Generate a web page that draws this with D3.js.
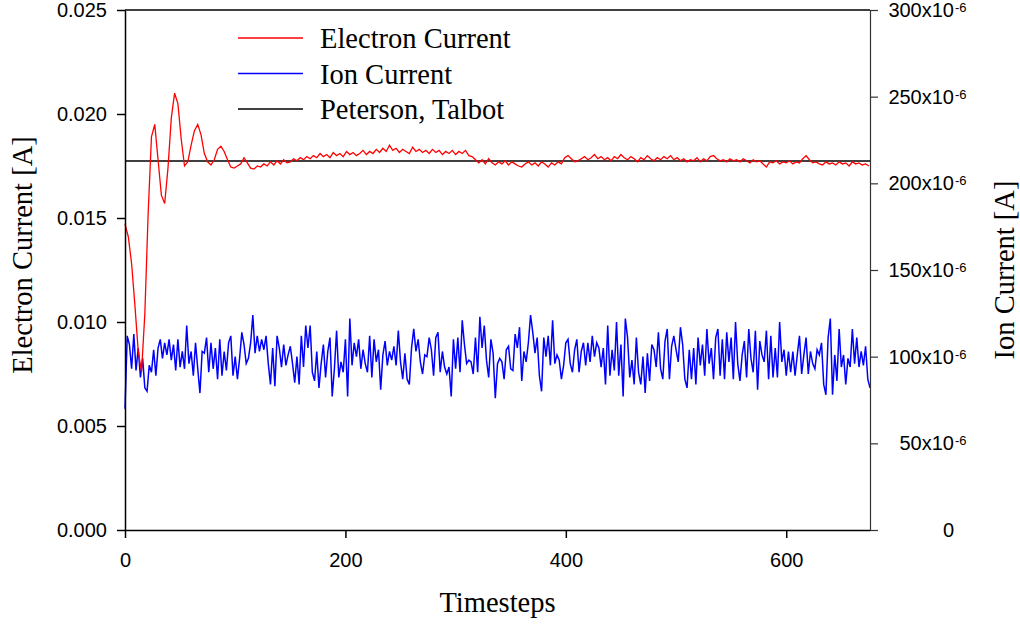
<!DOCTYPE html>
<html>
<head>
<meta charset="utf-8">
<script src="https://cdn.jsdelivr.net/npm/d3@7"></script>
<style>
  body { margin: 0; background: #fff; }
  svg { display: block; }
</style>
</head>
<body>
<div id="chart"></div>
<script>
// electron current, read every 3 timesteps (mA)
const electronStep = 3;
const electronCurrent = [
  14.7, 14.1, 12.8, 10.8, 8.6, 7.6, 10.4, 15.2, 18.9, 19.5,
  17.8, 16.1, 15.7, 17.4, 19.8, 21.0, 20.5, 18.8, 17.5, 17.7,
  18.5, 19.2, 19.5, 19.0, 18.1, 17.7, 17.55, 17.8, 18.3, 18.45,
  18.2, 17.8, 17.45, 17.4, 17.5, 17.6, 17.9, 17.65, 17.4, 17.35,
  17.5,
  17.45, 17.6, 17.5, 17.7, 17.55, 17.75, 17.6, 17.8, 17.65, 17.7,
  17.85, 17.75, 17.9, 17.8, 17.95, 17.85, 18.0, 17.9, 18.1, 17.95,
  18.05, 17.9, 18.15, 18.0, 18.1, 17.95, 18.2, 18.05, 18.15, 18.0,
  18.1, 18.25, 18.05, 18.2, 18.1, 18.3, 18.15, 18.35, 18.2, 18.5,
  18.25, 18.35, 18.15, 18.3, 18.2, 18.1, 18.4, 18.2, 18.3, 18.15, 18.25, 18.1, 18.3,
  18.15, 18.25, 18.05, 18.2, 18.1, 18.25, 18.05, 18.2, 18.1, 18.25, 18.0, 17.95, 17.8,
  17.65, 17.8, 17.6, 17.85, 17.65, 17.55, 17.7, 17.6, 17.75, 17.55, 17.7, 17.6, 17.5, 17.45,
  17.6, 17.7, 17.55, 17.65, 17.5, 17.7, 17.6, 17.45, 17.65, 17.55, 17.7, 17.6, 17.9, 18.0, 17.85, 17.7, 17.75,
  17.85, 17.95, 17.8, 17.9, 18.05, 17.85, 17.95, 17.8, 17.9, 17.75,
  17.95, 17.85, 18.05, 17.9, 17.8, 17.95, 17.85, 17.7, 17.9, 17.8,
  18.0, 17.85, 17.75, 17.9, 17.8, 17.95, 17.85, 18.0, 17.8, 17.9,
  17.75, 17.85, 17.7, 17.8, 17.75, 17.9, 17.7, 17.85, 17.75, 17.95,
  18.0, 17.85, 17.75, 17.8, 17.7, 17.85, 17.75, 17.8, 17.7, 17.85,
  17.75, 17.65, 17.8, 17.7, 17.75,
  17.6, 17.45, 17.7, 17.65, 17.75, 17.6, 17.7, 17.65, 17.75, 17.6,
  17.7, 17.65, 17.85, 18.0, 17.8, 17.65, 17.7, 17.6, 17.55, 17.7,
  17.6, 17.65, 17.55, 17.7, 17.6, 17.65, 17.5, 17.7, 17.6, 17.65,
  17.55, 17.6, 17.5
];

// ion current, read every 2 timesteps (uA)
const ionStep = 2;
const ionCurrent = [
  70, 112, 107, 93, 113, 92, 105, 88, 99, 82,
  80, 95, 91, 104, 89, 105, 110, 99, 108, 101,
  110, 98, 107, 92, 110, 94, 103, 93, 118, 96,
  103, 89, 108, 93, 79, 103, 102, 111, 91, 108,
  93, 105, 87, 110, 89, 103, 92, 108, 112, 89,
  100, 87, 99, 114, 107, 96, 99, 108, 124, 102,
  112, 103, 110, 104, 112, 96, 84, 105, 83, 112,
  105, 94, 107, 95, 101, 106, 96, 85, 100, 84,
  112, 94, 118, 105,
  118, 91, 86, 103, 82, 96, 107, 88, 103, 111,
  77, 93, 115, 88, 97, 91, 110, 77, 122, 95,
  108, 100, 110, 93, 104, 96, 91, 112, 88, 110,
  97, 104, 81, 101, 109, 95, 103, 98, 106, 95,
  115, 97, 87, 102, 87, 84, 105, 116, 103, 110,
  97, 90, 101, 100, 111, 104, 89, 111, 114, 91,
  103, 94, 90, 94, 77, 110, 93, 111, 91, 121,
  107, 96, 98, 97, 90, 111, 91, 123, 105, 118,
  98, 88, 110, 102, 76, 96,
  99, 97, 87, 104, 106, 93, 92, 113, 105, 117,
  86, 103, 97, 108, 124, 114, 102, 111, 89, 80,
  111, 100, 112, 95, 121, 96, 101, 98, 87, 95,
  108, 110, 96, 91, 104, 110, 91, 103, 108, 95,
  108, 97, 112, 100, 108, 105, 94, 105, 84, 118,
  89, 104, 92, 120, 89, 107, 77, 122, 111, 88,
  98, 84, 111, 91, 84, 100, 79, 102, 86, 107,
  104, 94, 114, 93, 87, 109, 116, 87, 106, 112,
  104, 97, 117, 107, 87,
  82, 104, 87, 105, 84, 111, 95, 107, 89, 116,
  96, 105, 87, 111, 116, 89, 110, 87, 114, 97,
  111, 87, 120, 96, 86, 101, 109, 88, 116, 99,
  91, 115, 81, 109, 101, 97, 115, 87, 112, 88,
  105, 88, 120, 97, 104, 89, 103, 91, 103, 89,
  101, 112, 90, 101, 111, 90, 103, 96, 93, 104,
  101, 108, 84, 78, 111, 122, 78, 101, 86, 116,
  94, 101, 84, 99, 94, 116, 96, 111, 94, 103,
  95, 106, 87, 82
];

// Peterson, Talbot reference (A)
const petersonTalbot = 0.01774;
const timeExtent = [0, 676];

const xTicks = [0, 200, 400, 600];
const leftTicks = [0, 0.005, 0.010, 0.015, 0.020, 0.025];
const rightTicks = [0, 50, 100, 150, 200, 250, 300];

const legendItems = [
  {label: "Electron Current", color: "#ff0000"},
  {label: "Ion Current", color: "#0000ff"},
  {label: "Peterson, Talbot", color: "#000000"}
];

const electronData = electronCurrent.map((v, i) => [i * electronStep, v / 1000]);
const ionData = ionCurrent.map((v, i) => [i * ionStep, v]);
const refData = timeExtent.map(t => [t, petersonTalbot]);

const W = 1020, H = 629;
const margin = {top: 10, right: 150, bottom: 99, left: 125};
const width = 870 - margin.left;
const height = 530 - margin.top;

const svg = d3.select("#chart").append("svg")
    .attr("width", W)
    .attr("height", H);

const g = svg.append("g")
    .attr("transform", `translate(${margin.left},${margin.top})`);

const x = d3.scaleLinear().domain(timeExtent).range([0, width]);
const yL = d3.scaleLinear().domain([0, 0.025]).range([height, 0]);
const yR = d3.scaleLinear().domain([0, 300]).range([height, 0]);

const numFont = "'Liberation Sans', Arial, sans-serif";
const serifFont = "'Liberation Serif', 'Times New Roman', serif";
const serifSize = "28.5px";

// top frame line
g.append("line")
    .attr("x1", 0).attr("x2", width)
    .attr("y1", 0).attr("y2", 0)
    .attr("stroke", "#000").attr("stroke-width", 1.5);

// series
g.append("path")
    .datum(refData)
    .attr("fill", "none")
    .attr("stroke", "#000")
    .attr("stroke-width", 1.5)
    .attr("d", d3.line().x(d => x(d[0])).y(d => yL(d[1])));

g.append("path")
    .datum(ionData)
    .attr("fill", "none")
    .attr("stroke", "#0000ff")
    .attr("stroke-width", 1.5)
    .attr("d", d3.line().x(d => x(d[0])).y(d => yR(d[1])));

g.append("path")
    .datum(electronData)
    .attr("fill", "none")
    .attr("stroke", "#ff0000")
    .attr("stroke-width", 1.3)
    .attr("d", d3.line().x(d => x(d[0])).y(d => yL(d[1])));

// axes
const xAxis = g.append("g")
    .attr("transform", `translate(0,${height})`)
    .call(d3.axisBottom(x).tickValues(xTicks).tickSize(8).tickSizeOuter(0).tickPadding(15));

const leftAxis = g.append("g")
    .call(d3.axisLeft(yL).tickValues(leftTicks).tickSize(8).tickSizeOuter(0)
      .tickPadding(10).tickFormat(d3.format(".3f")));

const rightAxis = g.append("g")
    .attr("transform", `translate(${width},0)`)
    .call(d3.axisRight(yR).tickValues(rightTicks).tickSize(8).tickSizeOuter(0).tickFormat(""));

[xAxis, leftAxis].forEach(a => {
  a.selectAll("text").style("font-family", numFont).style("font-size", "20px").attr("fill", "#000");
  a.selectAll("path, line").attr("stroke", "#000").attr("stroke-width", 1.5);
});
rightAxis.selectAll("path, line").attr("stroke", "#333").attr("stroke-width", 1.2);

// right tick labels: 300x10^-6 style
const rLab = rightAxis.selectAll(".rlab")
    .data(rightTicks)
    .join("g")
    .attr("class", "rlab")
    .attr("fill", "#000")
    .attr("transform", d => `translate(84,${yR(d)})`);
rLab.append("text")
    .attr("text-anchor", "end")
    .attr("dy", 7)
    .style("font-family", numFont)
    .style("font-size", "20px")
    .text(d => d === 0 ? "0" : d + "x10");
rLab.filter(d => d !== 0).append("text")
    .attr("x", 1)
    .attr("dy", 2)
    .style("font-family", numFont)
    .style("font-size", "13px")
    .text("-6");

// axis titles
svg.append("text")
    .attr("transform", `translate(32,${margin.top + height / 2 - 15}) rotate(-90)`)
    .attr("text-anchor", "middle")
    .style("font-family", serifFont)
    .style("font-size", serifSize)
    .text("Electron Current [A]");

svg.append("text")
    .attr("transform", `translate(1014,${margin.top + height / 2}) rotate(-90)`)
    .attr("text-anchor", "middle")
    .style("font-family", serifFont)
    .style("font-size", serifSize)
    .text("Ion Current [A]");

svg.append("text")
    .attr("x", margin.left + width / 2)
    .attr("y", 612)
    .attr("text-anchor", "middle")
    .style("font-family", serifFont)
    .style("font-size", serifSize)
    .text("Timesteps");

// legend
const legend = svg.append("g").attr("transform", "translate(238,38)");
const li = legend.selectAll("g")
    .data(legendItems)
    .join("g")
    .attr("transform", (d, i) => `translate(0,${i * 35.5})`);
li.append("line")
    .attr("x1", 0).attr("x2", 65)
    .attr("stroke", d => d.color)
    .attr("stroke-width", 1.5);
li.append("text")
    .attr("x", 82)
    .attr("y", 10)
    .style("font-family", serifFont)
    .style("font-size", serifSize)
    .text(d => d.label);
</script>
</body>
</html>
